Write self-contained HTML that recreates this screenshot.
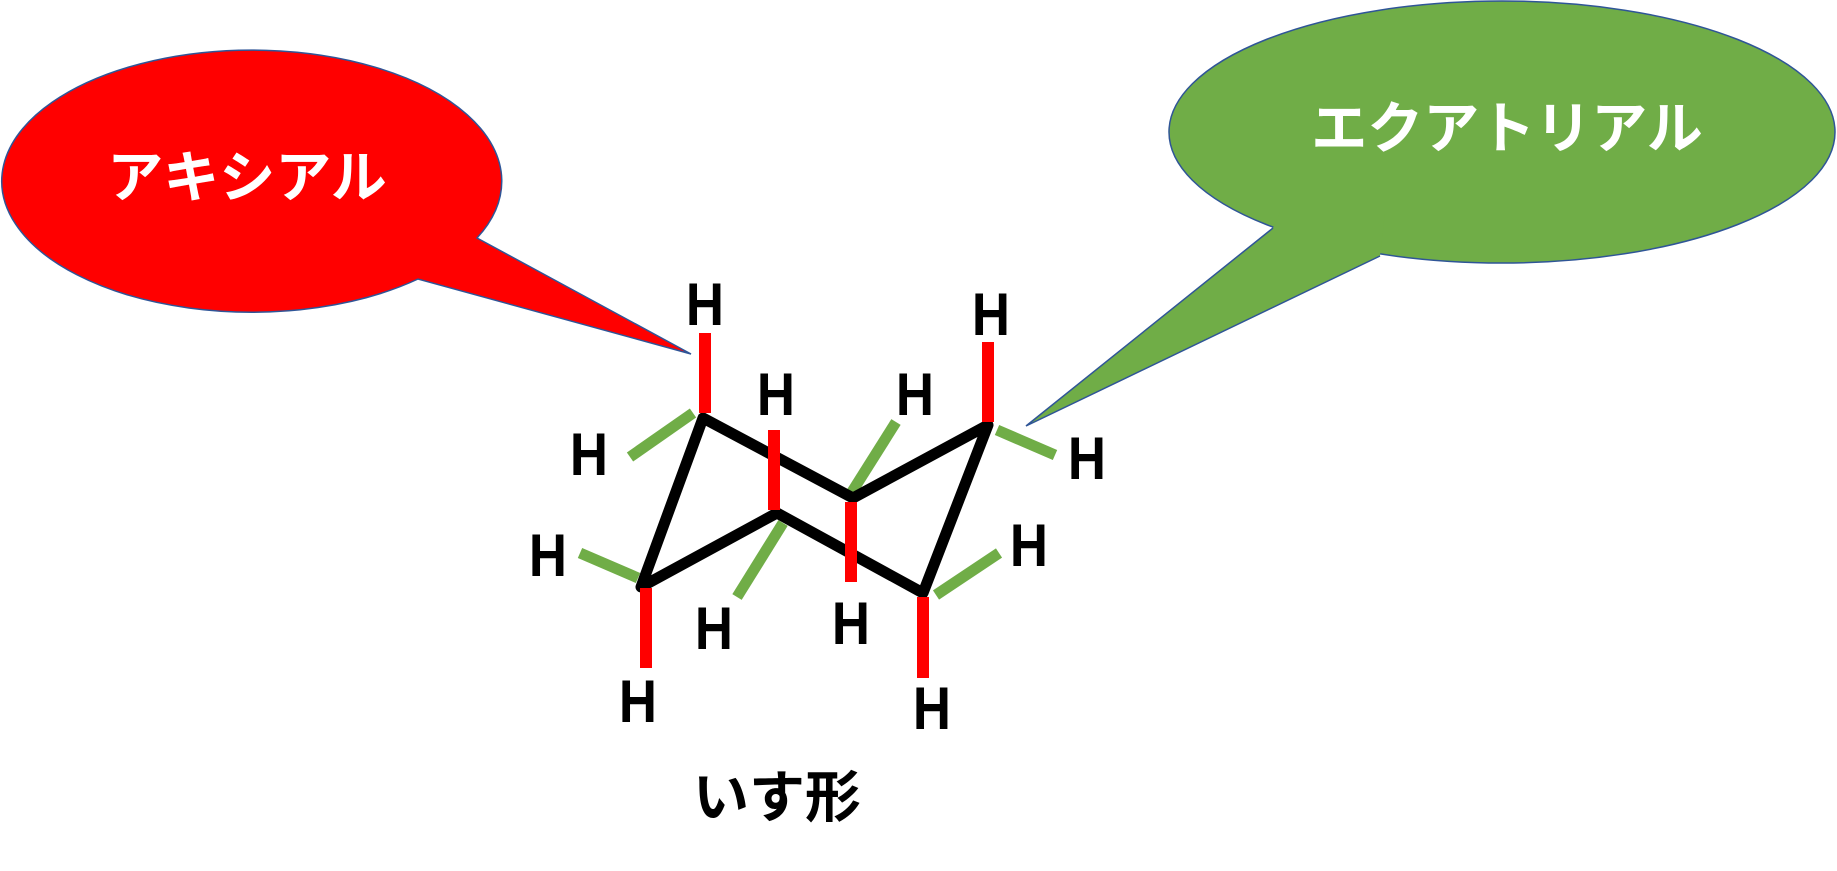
<!DOCTYPE html>
<html><head><meta charset="utf-8"><style>html,body{margin:0;padding:0;background:#fff;}svg{display:block}</style></head><body>
<svg width="1837" height="871" viewBox="0 0 1837 871" xmlns="http://www.w3.org/2000/svg">
<g stroke="#2F5597" stroke-width="1.5">
<path d="M477,238 L691,354 L418,279 A250,131 0 1 1 477,238 Z" fill="#FF0000"/>
<ellipse cx="1502" cy="132" rx="333" ry="131" fill="#70AD47"/>
<polygon points="1026,426 1273,228 1280,212 1385,212 1380,256" fill="#70AD47" stroke="none"/>
<polyline points="1273,228 1026,426 1380,256" fill="none"/>
</g>
<g font-family="'Liberation Sans','Noto Sans CJK JP',sans-serif" font-weight="bold" fill="#fff" text-anchor="middle">
<text x="247" y="197" font-size="56">アキシアル</text>
<text x="1507" y="148" font-size="56">エクアトリアル</text>
</g>
<g stroke-linecap="butt">
<g stroke="#70AD47" stroke-width="11">
<line x1="693" y1="413" x2="630" y2="457"/>
<line x1="783" y1="523" x2="737" y2="597"/>
<line x1="896" y1="422" x2="850" y2="495"/>
<line x1="997" y1="430" x2="1055" y2="455"/>
<line x1="936" y1="595" x2="999" y2="553"/>
<line x1="638" y1="578" x2="580" y2="553"/>
</g>
<g stroke="#000" stroke-width="11" fill="none" stroke-linejoin="round">
<path d="M703,418 L853,498 L988,425 L923,593 L777,513 L641,587 Z"/>
</g>
<g stroke="#FF0000" stroke-width="12">
<line x1="705" y1="333" x2="705" y2="413"/>
<line x1="774" y1="430" x2="774" y2="510"/>
<line x1="851" y1="502" x2="851" y2="582"/>
<line x1="988" y1="342" x2="988" y2="422"/>
<line x1="923" y1="597" x2="923" y2="678"/>
<line x1="646" y1="588" x2="646" y2="668"/>
</g>
</g>
<g font-family="'Liberation Sans',sans-serif" font-weight="bold" font-size="60" fill="#000" text-anchor="middle">
<text transform="translate(705,325) scale(0.88,1)">H</text>
<text transform="translate(991,335) scale(0.88,1)">H</text>
<text transform="translate(776,415) scale(0.88,1)">H</text>
<text transform="translate(915,415) scale(0.88,1)">H</text>
<text transform="translate(589,475) scale(0.88,1)">H</text>
<text transform="translate(1087,479) scale(0.88,1)">H</text>
<text transform="translate(1029,566) scale(0.88,1)">H</text>
<text transform="translate(548,576) scale(0.88,1)">H</text>
<text transform="translate(714,649) scale(0.88,1)">H</text>
<text transform="translate(851,644) scale(0.88,1)">H</text>
<text transform="translate(638,722) scale(0.88,1)">H</text>
<text transform="translate(932,729) scale(0.88,1)">H</text>
</g>
<text x="777" y="817" font-family="'Liberation Sans','Noto Sans CJK JP',sans-serif" font-weight="bold" font-size="56" text-anchor="middle" fill="#000">いす形</text>
</svg>
</body></html>
